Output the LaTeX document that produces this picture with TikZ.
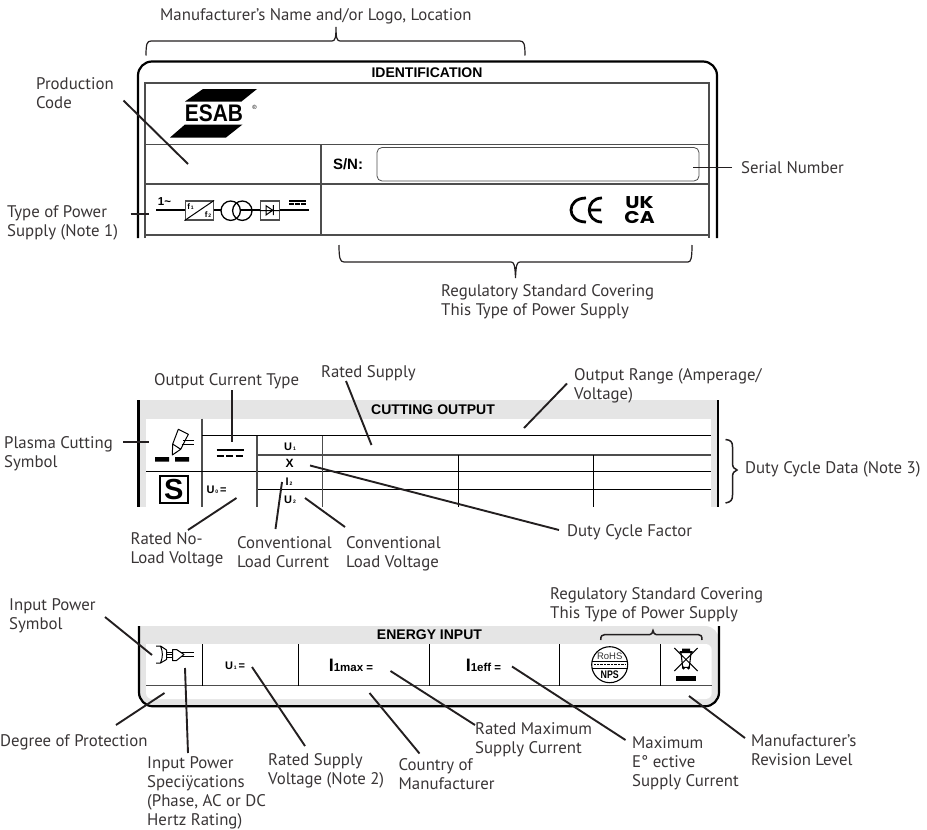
\documentclass[tikz,border=0pt]{standalone}
\usepackage{fontspec}
\setmainfont{PT Sans}
\newfontfamily\platefont{Liberation Sans}
\newfontfamily\markfont{Poppins}
\newcommand{\subs}[1]{\kern1pt{\fontsize{5}{5}\selectfont #1}}
\newcommand{\lh}{\rule{0pt}{14pt}}
\definecolor{inkc}{HTML}{231F20}
\definecolor{bandc}{HTML}{E5E5E5}
\definecolor{rulec}{HTML}{4D4D4D}

\begin{document}
\begin{tikzpicture}[x=1pt, y=-1pt,
			lab/.style={anchor=north west, inner sep=0pt, align=left, text=inkc!90, font=\fontsize{16.8}{19}\selectfont},
			lead/.style={draw=inkc, line width=1.9pt},
			brc/.style={draw=inkc, line width=1.2pt},
			tab/.style={draw=rulec, line width=1.1pt},
			blk/.style={draw=black, line width=1pt},
			heavy/.style={draw=black, line width=2.2pt},
			plate/.style={inner sep=0pt, font=\platefont\bfseries\fontsize{11}{11}\selectfont},
			head/.style={inner sep=0pt, font=\platefont\bfseries\fontsize{14}{14}\selectfont}]
	\useasboundingbox (0,0) rectangle (927,830);

	% identification plate
	\draw[heavy, rounded corners=14pt] (138,238) -- (138,61.5) -- (717,61.5) -- (717,238);
	\draw[tab] (145,238) -- (145,83) -- (709,83) -- (709,238);
	\draw[tab] (145,144.5) -- (709,144.5) (145,184) -- (709,184) (145,235) -- (709,235) (321,144.5) -- (321,235);
	\draw[draw=rulec, line width=.8pt, rounded corners=5pt] (377,147.5) rectangle (699,181);
	\node[head] (ident) at (427,73) {IDENTIFICATION};
	\node[plate, font=\platefont\bfseries\fontsize{15}{15}\selectfont] (sn) at (348,164.5) {S/N:};
	% logo
	\fill[black] (185,101.5) -- (203,89) -- (257,89) -- (241.5,101.5) -- cycle;
	\fill[black] (170,137.5) -- (185,124.5) -- (242.5,124.5) -- (226,137.5) -- cycle;
	\node[inner sep=0pt, font=\platefont\bfseries\fontsize{24}{24}\selectfont] (esab) at (214,113.5) {\scalebox{.87}[1]{ESAB}};
	\node[inner sep=0pt, font=\platefont\fontsize{6}{6}\selectfont] (regmark) at (254.5,107.5) {\textregistered};
	% power supply symbol
	\coordinate (pwrin) at (156,210);
	\coordinate (pwrout) at (309,210);
	\draw[blk, line width=1.3pt] (pwrin) -- (pwrout);
	\node[draw=rulec, line width=1.1pt, fill=white, minimum width=28.5pt, minimum height=19pt, inner sep=0pt] (conv) at (199.3,210.5) {};
	\draw[blk] (conv.south west) -- (conv.north east);
	\node[plate, font=\platefont\bfseries\fontsize{8}{8}\selectfont] (f1) at (190.5,206.5) {f\subs{1}};
	\node[plate, font=\platefont\bfseries\fontsize{8}{8}\selectfont] (f2) at (208,215) {f\subs{2}};
	\draw[blk, line width=1.3pt, fill=white] (230.7,210.7) circle[radius=9.7pt];
	\draw[blk, line width=1.3pt] (242.3,210.7) circle[radius=9.7pt];
	\node[draw=rulec, line width=1.1pt, fill=white, minimum size=19pt, inner sep=0pt] (rect) at (269.6,210.5) {};
	\draw[blk] (rect.west) -- (rect.east) (266,205.7) -- (266,215) -- (272.7,210.3) -- cycle (273.3,205) -- (273.3,215);
	\node[plate, font=\platefont\bfseries\fontsize{11.5}{11.5}\selectfont] (phase) at (164.5,202) {1\char"007E};
	\draw[blk, line width=1.2pt] (289,201) -- (306,201);
	\draw[blk, line width=1.2pt, dash pattern=on 4.6pt off 1.4pt] (289,204) -- (306,204);
	% conformity marks
	\draw[black, line width=2.8pt] (586,198) .. controls (566,198) and (566,222) .. (586,222);
	\draw[black, line width=2.8pt] (602,198) .. controls (585,198) and (585,222) .. (602,222) (591,210) -- (601,210);
	\node[inner sep=0pt, font=\markfont\fontsize{15.5}{15.5}\selectfont, align=center] (ukca) at (639.5,210) {\scalebox{1.3}[1.1]{\bfseries UK}\\\scalebox{1.3}[1.1]{\bfseries CA}};

	% cutting output plate
	\fill[bandc] (139,400) rectangle (718,507);
	\fill[white] (146,419) rectangle (711,507);
	\draw[heavy, line width=2.4pt] (138.5,400) -- (138.5,507) (718,400) -- (718,507);
	\node[head] (cutout) at (433,410) {CUTTING OUTPUT};
	\draw[tab] (202,418.5) -- (202,507);
	\draw[blk] (202,435.5) -- (711,435.5) (146,471) -- (711,471) (257,489) -- (711,489);
	\draw[tab, line width=1.4pt] (257,455) -- (711,455);
	\draw[tab] (257,435.5) -- (257,507) (322.5,435.5) -- (322.5,507);
	\draw[blk] (458.5,455) -- (458.5,507) (593,455) -- (593,507);
	\node[plate] (uone) at (290,446.5) {U\subs{1}};
	\node[plate, font=\platefont\bfseries\fontsize{12}{12}\selectfont] (xfac) at (289.5,463.5) {X};
	\node[plate] (itwo) at (289,482) {I\subs{2}};
	\node[plate] (utwo) at (290,500) {U\subs{2}};
	\node[plate] (uzero) at (216.5,490) {U\subs{0}\,=};
	\node[draw=black, line width=1.8pt, inner sep=0pt, minimum width=28pt, minimum height=27pt, font=\platefont\bfseries\fontsize{29}{29}\selectfont] (sbox) at (173.7,489.5) {S};
	% torch symbol
	\fill[black] (155,457) rectangle (169,461.5) (175,457) rectangle (189,461.5);
	\draw[blk, line join=round] (178.3,429.3) -- (188.3,434.3) -- (180.7,449.3) -- (172.7,444) -- cycle (172.7,444) -- (172.3,455) -- (180.7,449.3);
	\draw[blk] (183,440) -- (194,440) (181.5,444) -- (194,444);
	\draw[blk, line width=1.3pt] (216.5,450) -- (243.5,450);
	\draw[blk, line width=1.3pt, dash pattern=on 7pt off 2.5pt] (216.5,456) -- (243.5,456);

	% energy input plate
	\fill[bandc] (139,626) [rounded corners=14pt] -- (139,706) -- (719,706) -- (719,626) [sharp corners] -- cycle;
	\fill[white] (146,644) [rounded corners=6pt] -- (146,699) -- (711.7,699) -- (711.7,644) [sharp corners] -- cycle;
	\draw[heavy, rounded corners=14pt] (139,626) -- (139,706.3) -- (719,706.3) -- (719,626);
	\node[head] (energy) at (429.5,635) {ENERGY INPUT};
	\draw[tab] (146,685.5) -- (711.7,685.5);
	\draw[blk] (202,644) -- (202,685.5) (298.5,644) -- (298.5,685.5) (429,644) -- (429,685.5) (559.3,644) -- (559.3,685.5) (660.3,644) -- (660.3,685.5);
	\node[plate] (uin) at (235,666) {U\subs{1}\,=};
	\node[plate, font=\platefont\bfseries\fontsize{11.5}{11.5}\selectfont] (imax) at (351,665.5) {{\fontsize{18}{18}\selectfont I}1max =};
	\node[plate, font=\platefont\bfseries\fontsize{11.5}{11.5}\selectfont] (ieff) at (483.5,665.5) {{\fontsize{18}{18}\selectfont I}1eff =};
	% plug symbol
	\draw[blk, line join=round] (156,646) -- (160.5,646) -- (166.5,650) -- (166.5,659.5) -- (160.5,663) -- (156,663) (160.5,646) .. controls (163,652) and (163,657) .. (160.5,663);
	\draw[blk] (166.5,652) -- (172.5,652) (166.5,654.5) -- (172.5,654.5) (166.5,657.5) -- (172.5,657.5);
	\draw[blk, line join=round] (172.5,649.5) -- (176.5,649.5) -- (184,654.5) -- (176.5,660.5) -- (172.5,660.5) -- cycle;
	\draw[blk] (181,652.7) -- (193.5,652.7) (181,656.7) -- (193.5,656.7);
	% rohs mark
	\draw[black, line width=1.1pt] (609.7,664.7) circle[radius=18pt];
	\draw[black, line width=.7pt] (592.1,661) -- (627.3,661) (592.1,668) -- (627.3,668);
	\draw[black, line width=1.4pt, dash pattern=on .8pt off .6pt] (594,664.5) -- (625.5,664.5);
	\node[inner sep=0pt, text=black!80, font=\platefont\fontsize{9.5}{9.5}\selectfont] (rohs) at (609.7,656) {RoHS};
	\node[inner sep=0pt, font=\platefont\bfseries\fontsize{11}{11}\selectfont] (nps) at (609.7,674.5) {\scalebox{.8}[1]{NPS}};
	% bin mark
	\draw[blk] (674.3,648) -- (697.7,671) (697.7,648) -- (674.3,671);
	\fill[black] (682,648.5) rectangle (690,651) (679.5,651) rectangle (692.5,653);
	\draw[blk, line width=1.1pt] (681,653) -- (682.7,667.3) -- (689.3,667.3) -- (691,653);
	\fill[black] (683.5,668) circle[radius=1.7pt] (688.5,668) circle[radius=1.7pt];
	\fill[black] (676,675.5) rectangle (696,681);

	% callout texts
	\node[lab] (maker) at (160,6) {\lh Manufacturer's Name and/or Logo, Location};
	\node[lab] (code) at (36,75) {\lh Production\\Code};
	\node[lab] (pwrtype) at (7,203) {\lh Type of Power\\Supply (Note 1)};
	\node[lab] (serial) at (741,159) {\lh Serial Number};
	\node[lab] (regtop) at (441,282) {\lh Regulatory Standard Covering\\This Type of Power Supply};
	\node[lab] (outcur) at (154,371) {\lh Output Current Type};
	\node[lab] (ratedsup) at (321,363) {\lh Rated Supply};
	\node[lab] (outrange) at (574,366) {\lh Output Range (Amperage/\\Voltage)};
	\node[lab] (plasma) at (4,434) {\lh Plasma Cutting\\Symbol};
	\node[lab] (noload) at (130.5,530) {\lh Rated No-\\Load Voltage};
	\node[lab] (loadcur) at (237,534) {\lh Conventional\\Load Current};
	\node[lab] (loadvolt) at (346,534) {\lh Conventional\\Load Voltage};
	\node[lab] (dutyfac) at (567,522) {\lh Duty Cycle Factor};
	\node[lab] (dutydata) at (745,459) {\lh Duty Cycle Data (Note 3)};
	\node[lab] (inpsym) at (9,596) {\lh Input Power\\Symbol};
	\node[lab] (degree) at (0,732) {\lh Degree of Protection};
	\node[lab] (inpspec) at (147,754) {\lh Input Power\\Speciÿcations\\(Phase, AC or DC\\Hertz Rating)};
	\node[lab] (ratedu) at (268,751) {\lh Rated Supply\\Voltage (Note 2)};
	\node[lab] (country) at (398.5,756) {\lh Country of\\Manufacturer};
	\node[lab] (ratedmax) at (475,720) {\lh Rated Maximum\\Supply Current};
	\node[lab] (maxeff) at (632,734) {\lh Maximum\\E° ective\\Supply Current};
	\node[lab] (revision) at (751,732) {\lh Manufacturer's\\Revision Level};
	\node[lab] (regbot) at (550,585) {\lh Regulatory Standard Covering\\This Type of Power Supply};

	% free ends of the leaders
	\foreach \n/\x/\y in {codept/188/164, pwrpt/149/214, serialpt/692.7/167.5, outcurpt/232/441.5,
			ratedpt/371.5/445, rangept/524/428, plasmapt/149/442, noloadpt/236.5/498, loadcurpt/282/482,
			loadvoltpt/305/498, dutypt/310/465.5, inpsympt/152/655, inpspecpt/185/668, degreept/164.5/693,
			ratedupt/252/667, countrypt/369.5/693, ratedmaxpt/390.5/671, maxeffpt/512/666.5, revisionpt/689/696}
		\coordinate (\n) at (\x,\y);

	\draw[lead] ([shift={(87.5,25.5)}]code.north west) -- (codept);
	\draw[lead] ([shift={(123.5,11)}]pwrtype.north west) -- (pwrpt);
	\draw[lead] ([shift={(-9,8.5)}]serial.north west) -- (serialpt);
	\draw[lead] ([shift={(78,19)}]outcur.north west) -- (outcurpt);
	\draw[lead] ([shift={(25,18)}]ratedsup.north west) -- (ratedpt);
	\draw[lead] ([shift={(-7,17.5)}]outrange.north west) -- (rangept);
	\draw[lead] ([shift={(119,8)}]plasma.north west) -- (plasmapt);
	\draw[lead] ([shift={(57.5,0)}]noload.north west) -- (noloadpt);
	\draw[lead] ([shift={(38.5,-5)}]loadcur.north west) -- (loadcurpt);
	\draw[lead] ([shift={(-1,-7)}]loadvolt.north west) -- (loadvoltpt);
	\draw[lead] ([shift={(-8,8)}]dutyfac.north west) -- (dutypt);
	\draw[lead] ([shift={(96,21)}]inpsym.north west) -- (inpsympt);
	\draw[lead] ([shift={(41,-1)}]inpspec.north west) -- (inpspecpt);
	\draw[lead] ([shift={(116,-7)}]degree.north west) -- (degreept);
	\draw[lead] ([shift={(37,-5)}]ratedu.north west) -- (ratedupt);
	\draw[lead] ([shift={(21,-2.5)}]country.north west) -- (countrypt);
	\draw[lead] ([shift={(0,5)}]ratedmax.north west) -- (ratedmaxpt);
	\draw[lead] ([shift={(-6.5,6)}]maxeff.north west) -- (maxeffpt);
	\draw[lead] ([shift={(-6,6)}]revision.north west) -- (revisionpt);

	% braces
	\draw[brc] (146,55.5) .. controls (146,44) and (147,41) .. (151,41) -- (332,41) .. controls (335,41) and (336,38) .. (336,27)
		.. controls (336,38) and (337,41) .. (340,41) -- (520,41) .. controls (524,41) and (525,44) .. (525,55.5);
	\draw[brc] (339,245) .. controls (339,258) and (340,262) .. (344,262) -- (511,262) .. controls (514,262) and (515,265) .. (515.5,278)
		.. controls (516,265) and (517,262) .. (520,262) -- (688,262) .. controls (691,262) and (692,258) .. (692,245);
	\draw[brc, line width=1.5pt] (725.5,439.5) .. controls (731,440) and (732.5,442) .. (732.5,447) -- (732.5,463) .. controls (732.5,467) and (734,469) .. (737,470)
		.. controls (734,471) and (732.5,473) .. (732.5,477) -- (732.5,495) .. controls (732.5,500) and (731,502) .. (725.5,503);
	\draw[brc, line width=1.5pt] (600.7,640) .. controls (600.7,636) and (602,634.5) .. (605,634.5) -- (650,634.5) .. controls (651.5,634.5) and (652.5,633) .. (653,630.5)
		.. controls (653.5,633) and (654.5,634.5) .. (656,634.5) -- (698,634.5) .. controls (701,634.5) and (702,636) .. (702,640);
\end{tikzpicture}
\end{document}
